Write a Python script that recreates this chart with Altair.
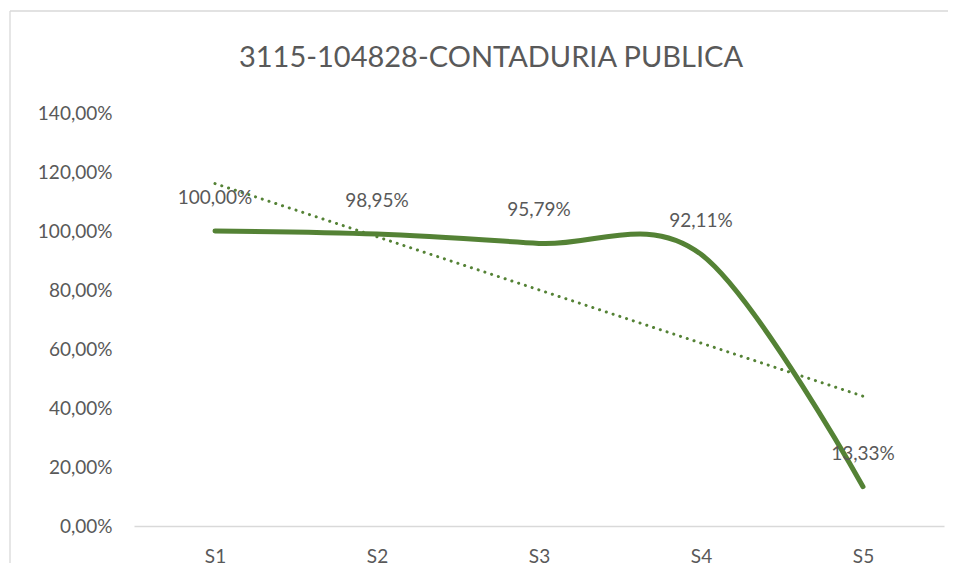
import json
import altair as alt
import pandas as pd

categories = ["S1", "S2", "S3", "S4", "S5"]
values = [100.00, 98.95, 95.79, 92.11, 13.33]
title_text = "3115-104828-CONTADURIA PUBLICA"
logo_text = "El saber como Arma de Vida"
y_ticks = [0, 20, 40, 60, 80, 100, 120, 140]

df = pd.DataFrame({"idx": list(range(1, len(categories) + 1)), "cat": categories, "val": values})

GREEN = "#548235"
TXT = "#595959"
FONT = "Lato"

cat_expr = json.dumps(categories) + "[datum.value - 1]"

x = alt.X("idx:Q", scale=alt.Scale(domain=[0.5, 5.5], nice=False, zero=False),
          axis=alt.Axis(values=list(range(1, 6)), labelExpr=cat_expr, title=None,
                        grid=False, ticks=False, domain=True, domainColor="#d9d9d9",
                        domainWidth=1.3, labelColor=TXT, labelFont=FONT, labelFontSize=19,
                        labelPadding=21))
y = alt.Y("val:Q", scale=alt.Scale(domain=[0, 140], nice=False),
          axis=alt.Axis(values=y_ticks,
                        labelExpr="replace(format(datum.value, '.2f'), '.', ',') + '%'",
                        title=None, grid=False, ticks=False, domain=False,
                        labelColor=TXT, labelFont=FONT, labelFontSize=19, labelPadding=22))

base = alt.Chart(df)

line = base.mark_line(interpolate="cardinal", color=GREEN, strokeWidth=5,
                      strokeCap="round").encode(x=x, y=y)

trend = base.transform_regression("idx", "val").mark_line(
    color=GREEN, strokeWidth=3, strokeDash=[0.1, 7], strokeCap="round"
).encode(x="idx:Q", y="val:Q")

labels = base.transform_calculate(
    lab="replace(format(datum.val, '.2f'), '.', ',') + '%'"
).mark_text(font=FONT, fontSize=19, color=TXT, dy=-33, baseline="middle").encode(
    x="idx:Q", y="val:Q", text="lab:N")

one = pd.DataFrame({"k": [0]})
border_left = alt.Chart(one).mark_rule(color="#d9d9d9", strokeWidth=1.3).encode(
    x=alt.value(-124), y=alt.value(-102), y2=alt.value(450))
border_top = alt.Chart(one).mark_rule(color="#d9d9d9", strokeWidth=1.3).encode(
    x=alt.value(-124), x2=alt.value(814), y=alt.value(-102))
logo = alt.Chart(pd.DataFrame({"t": [logo_text]})).mark_text(
    font=FONT, fontSize=8, color="#404040", baseline="bottom").encode(
    x=alt.value(672), y=alt.value(-103), text="t:N")
title = alt.Chart(pd.DataFrame({"t": [title_text]})).mark_text(
    font=FONT, fontSize=29, color=TXT, baseline="middle", align="center").encode(
    x=alt.value(357), y=alt.value(-55), text="t:N")

chart = alt.layer(border_left, border_top, logo, title, trend, line, labels).properties(
    width=810, height=413,
    autosize=alt.AutoSizeParams(type="none"),
    padding={"left": 126, "top": 105, "right": 4, "bottom": 40},
).configure(background="white").configure_view(stroke="transparent", strokeWidth=0)

chart.save("out.html", embed_options={"renderer": "svg", "actions": False})
